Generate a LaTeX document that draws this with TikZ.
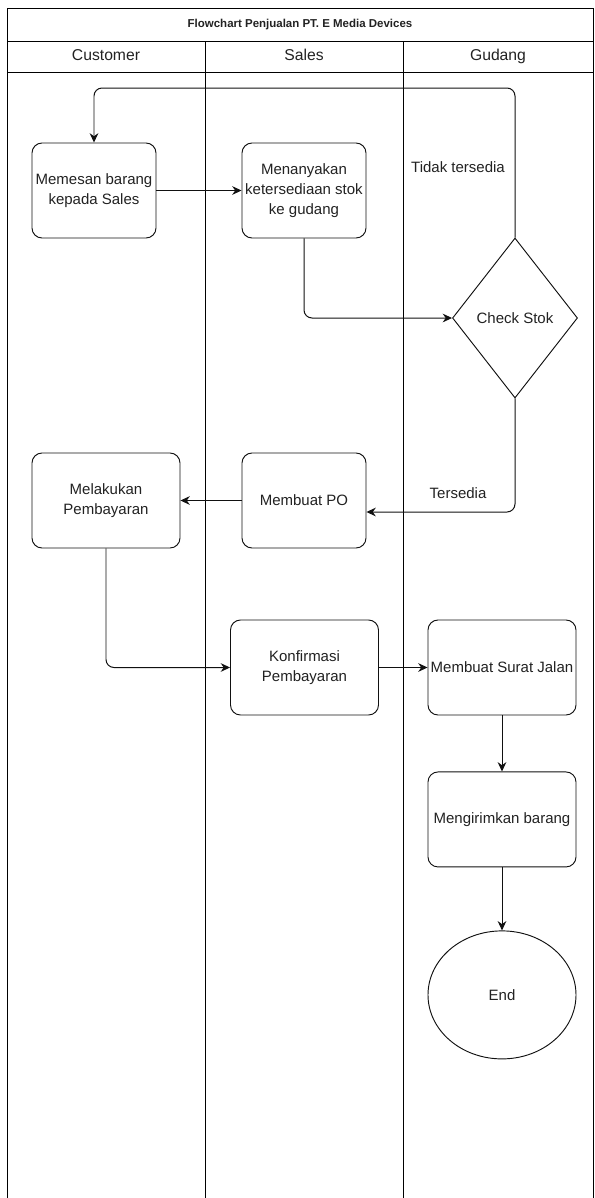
\documentclass[tikz,border=0pt]{standalone}
\usepackage{fontspec}
\setmainfont{Liberation Sans}
\usepackage{xcolor}
\usepackage{tikz}
\usetikzlibrary{arrows.meta, positioning, shapes.geometric, calc}
\definecolor{laneink}{HTML}{000000}
\definecolor{boxink}{HTML}{111111}
\definecolor{textink}{HTML}{222222}
\newcommand{\bodyfont}{\fontsize{12.8}{17}\selectfont}
\newcommand{\headfont}{\fontsize{13.4}{16}\selectfont}
\newcommand{\titlefont}{\fontsize{9.8}{11}\selectfont\bfseries}
\tikzset{
  pbox/.style={draw=boxink, fill=white, rounded corners=0.3cm, align=center,
    minimum height=2.85cm, minimum width=3.72cm, inner xsep=2pt, font=\bodyfont, text=textink, line width=0.8pt},
  wbox/.style={pbox, minimum width=4.44cm},
  dbox/.style={diamond, draw=boxink, fill=white, align=center, minimum width=3.75cm, minimum height=4.8cm,
    font=\bodyfont, text=textink, line width=0.8pt},
  ebox/.style={ellipse, draw=boxink, fill=white, align=center, minimum width=4.44cm, minimum height=3.84cm,
    font=\bodyfont, text=textink, line width=0.8pt},
  lbl/.style={font=\bodyfont, text=textink, inner sep=1pt},
  lanehead/.style={font=\headfont, text=textink, inner sep=1pt, text height=1.1ex*1.4, text depth=0.25ex*1.4},
  frame/.style={draw=laneink, line width=0.75pt},
  flow/.style={-{Stealth[length=2.8mm, width=2.6mm]}, draw=boxink, line width=0.85pt, rounded corners=0.24cm}
}

\begin{document}
\begin{tikzpicture}[x=0.03cm, y=-0.03cm, node distance=1.68cm and 1.5cm]
\useasboundingbox (0,0) rectangle (595,1198);
\draw[frame] (7,1198) |- (593,8) -- (593,1198);
\draw[frame] (7,41) -- (593,41) (7,72) -- (593,72) (205,41) -- (205,1198) (403,41) -- (403,1198);
\node[font=\titlefont, text=textink] (title) at (300,24.5) {Flowchart Penjualan PT. E Media Devices};
\node[lanehead] (customer) at (106,56.5) {Customer};
\node[lanehead] (sales) at (304,56.5) {Sales};
\node[lanehead] (gudang) at (498,56.5) {Gudang};
\node[pbox] (order) at (94,190.5) {Memesan barang\\kepada Sales};
\node[pbox] (ask) at (304,190.5) {Menanyakan\\ketersediaan stok\\ke gudang};
\node[dbox] (check) at (515,318) {Check Stok};
\node[pbox] (po) at (304,500.5) {Membuat PO};
\node[wbox] (pay) at (106,500.5) {Melakukan\\Pembayaran};
\node[wbox] (confirm) at (304.5,667.5) {Konfirmasi\\Pembayaran};
\node[wbox] (letter) at (502,667.5) {Membuat Surat Jalan};
\node[wbox, below=of letter] (ship) {Mengirimkan barang};
\node[ebox, below=1.89cm of ship] (finish) {End};
\node[lbl] (notavail) at (458,167) {Tidak tersedia};
\node[lbl] (avail) at (458,493) {Tersedia};
\coordinate (looptop) at (300,88);
\draw[flow] (check.north) -- (check.north |- looptop) -| (order.north);
\draw[flow] (order) -- (ask); \draw[flow] (ask.south) |- (check.west);
\draw[flow] (check.south) |- ([yshift=-0.345cm]po.east); \draw[flow] (po) -- (pay);
\draw[flow] (pay.south) |- (confirm.west); \draw[flow] (confirm) -- (letter);
\draw[flow] (letter) -- (ship); \draw[flow] (ship) -- (finish);
\end{tikzpicture}
\end{document}
